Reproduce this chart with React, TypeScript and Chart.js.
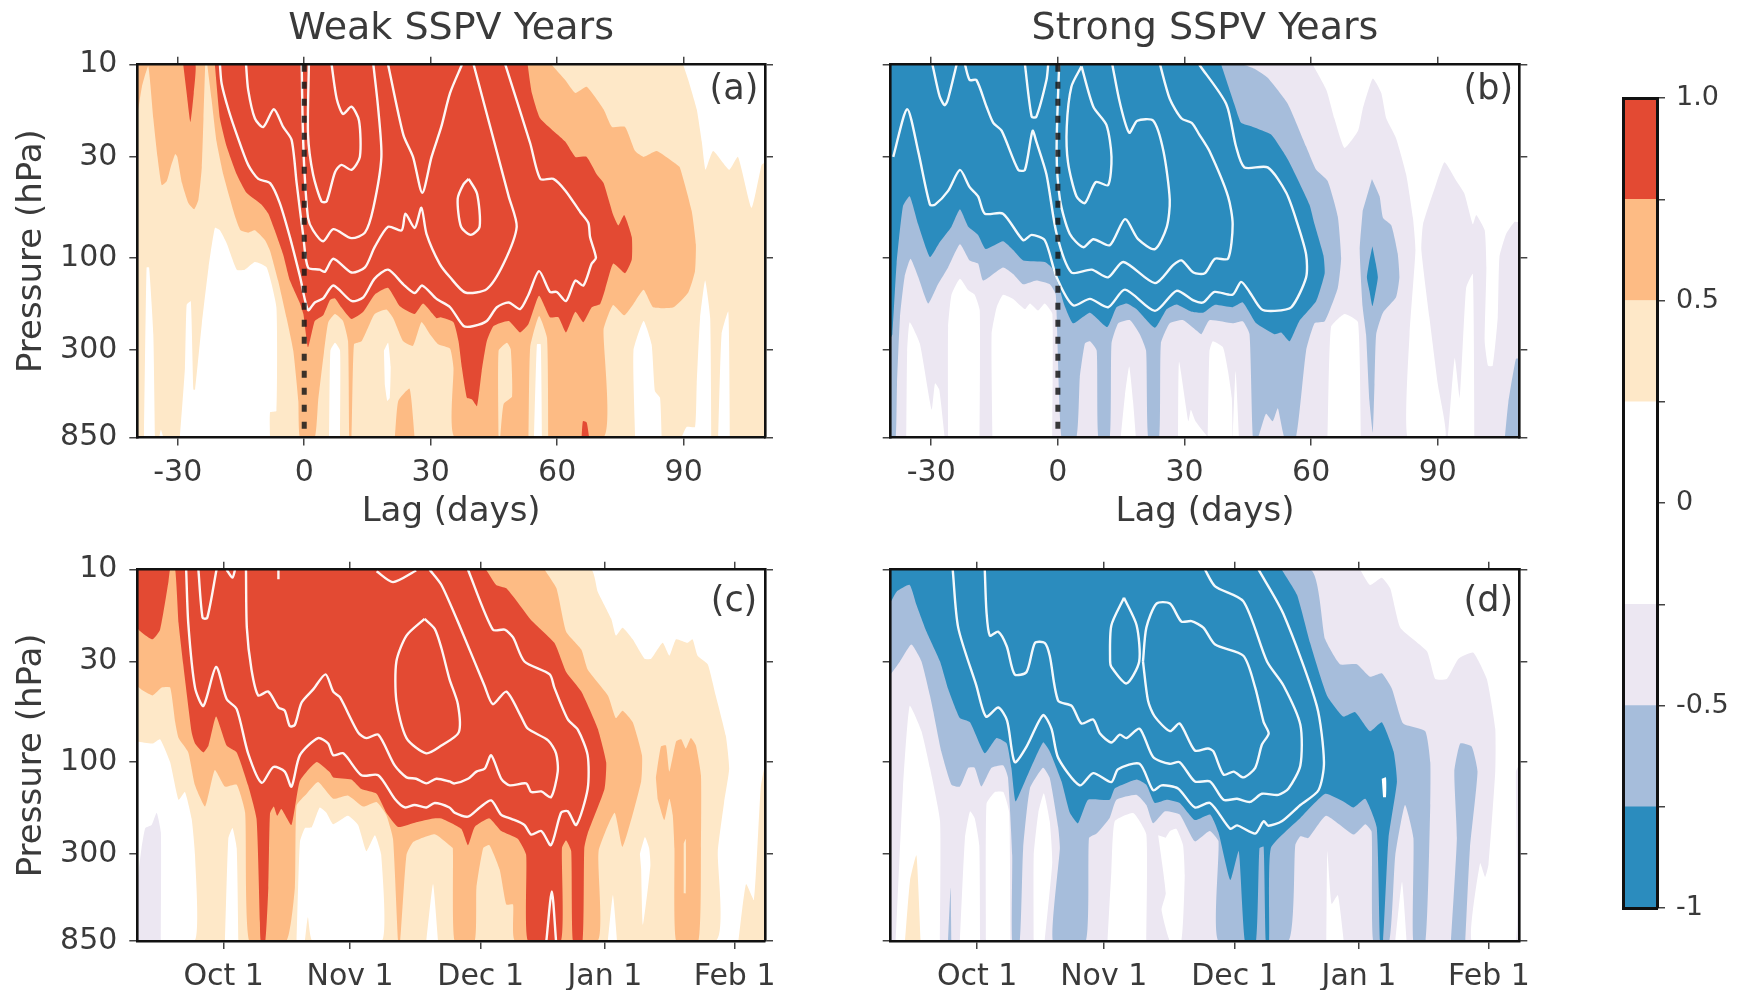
import React, { useEffect, useRef } from "react";
import { Chart, registerables } from "chart.js";
Chart.register(...registerables);

type P = number[][];
const RED = "#e34a33", ORANGE = "#fdbb84", LIGHT = "#fee8c8", WHITE = "#ffffff", LAV = "#ece7f2", LBLUE = "#a6bddb", BLUE = "#2b8cbe";

const lagTicks = [-30, 0, 30, 60, 90];
const lagLabels = ["-30", "0", "30", "60", "90"];
const dateTicks = [0, 30, 61, 90.5, 121.3];
const dateLabels = ["Oct 1", "Nov 1", "Dec 1", "Jan 1", "Feb 1"];
const pressureTicks = [10, 30, 100, 300, 850];
const levels = [-1, -0.75, -0.5, -0.25, 0, 0.25, 0.5, 0.75, 1];
const bandColors = [BLUE, LBLUE, LAV, WHITE, WHITE, LIGHT, ORANGE, RED];
const zeroLine: P = [[0, 10], [0, 850]];

// ---------- panel (a): lag (days), pressure (hPa)
const aBase: P = [[-39.6, 10], [109.3, 10], [109.3, 850], [-39.6, 850]];
const aOrange1: P = [[-39.6, 10], [-39.6, 18], [-38.5, 13], [-37, 10.2], [-35.8, 19], [-34.8, 30], [-33.8, 42], [-32.6, 40], [-31.7, 34], [-30.6, 29], [-30.1, 30], [-29, 41], [-27.5, 52], [-26.1, 56], [-25.1, 50], [-24.3, 34], [-23.9, 19], [-23.5, 10]];
const aRedWedge: P = [[-28.7, 10], [-25.8, 10], [-26.2, 14], [-27, 19.8], [-27.9, 14]];
const aOrange2: P = [[-23, 10], [-22, 15], [-20.8, 25], [-19.2, 37], [-16.4, 61], [-15.1, 72], [-13.3, 74], [-11.7, 72], [-9.3, 81], [-8.1, 92], [-6.2, 131], [-4.2, 204], [-2.6, 302], [-1.4, 550], [-1, 850], [2.5, 850], [3.3, 550], [4.7, 305], [5.7, 215], [7.3, 195], [9.2, 212], [10.4, 270], [10.7, 850], [11.2, 850], [11.8, 280], [13.6, 270], [15.2, 228], [16.7, 195], [19.5, 185], [21.1, 205], [23.5, 270], [25.8, 285], [27.8, 215], [29.8, 248], [31.8, 280], [34.6, 295], [35.4, 370], [35.8, 850], [71, 850], [71, 235], [72.2, 195], [73.3, 175], [75.9, 198], [78.1, 173], [80.5, 146], [82.8, 180], [87.6, 180], [91.1, 151], [92.7, 117], [92.9, 85], [91.9, 57], [89.1, 34], [87.6, 32], [83.6, 28], [80.5, 30], [78.5, 28], [76.1, 21], [73, 21], [71, 17], [67, 13], [64.3, 14], [61.9, 12], [58.7, 10]];
const aOrange3: P = [[21.5, 850], [22.3, 550], [25, 475], [26.2, 850]];
const aLightIsle1: P = [[46.1, 850], [46.1, 302], [48.1, 275], [49, 298], [49.3, 522], [47.3, 570], [46.5, 850]];
const aLightIsle2: P = [[53.2, 850], [53.6, 290], [55.7, 200], [57.6, 260], [57.9, 850]];
const aWhiteIsle: P = [[54.5, 850], [55.2, 280], [56.1, 280], [56.4, 850]];
const aWhite1: P = [[-38, 850], [-37.4, 112], [-36.8, 112], [-35.8, 248], [-35.4, 850]];
const aWhite2: P = [[-34.4, 850], [-34, 775], [-33.4, 850]];
const aWhite3: P = [[-29.5, 850], [-28.3, 370], [-27.9, 175], [-26.9, 168], [-26.3, 480], [-25.9, 480], [-24.3, 220], [-22.7, 112], [-21.2, 70], [-20, 72], [-18.4, 84], [-16, 115], [-14.1, 115], [-11.7, 105], [-8.9, 112], [-6.6, 180], [-6.6, 620], [-8.1, 630], [-8.1, 850]];
const aWhite4: P = [[5.9, 850], [6.2, 302], [7.3, 275], [8.5, 302], [8.5, 850]];
const aWhite5: P = [[18.9, 302], [19.9, 275], [20.5, 365], [20.3, 530], [19.7, 550], [19.1, 450]];
const aWhite6: P = [[78.5, 850], [78.1, 302], [80.5, 212], [82.4, 280], [83.2, 490], [84.4, 530], [84.8, 850]];
const aWhite7: P = [[89.5, 850], [90.7, 750], [92.7, 750], [93.1, 450], [93.9, 205], [95.1, 131], [96.3, 205], [96.6, 850]];
const aWhite8: P = [[98.2, 850], [99, 248], [100.6, 190], [101, 850]];
const aWhiteTop: P = [[89.9, 10], [91.1, 12], [93.1, 17], [94.3, 25], [95.2, 35], [97, 28], [100.8, 35], [102.9, 30], [106.1, 55], [108.5, 33], [109.3, 32], [109.3, 10]];
const aRed: P = [[-21.2, 10], [-20, 19], [-18.4, 26.5], [-16, 37], [-13.7, 46], [-10.1, 53], [-8.5, 59], [-7, 72], [-5, 96], [-3.4, 131], [-1, 172], [-0.2, 195], [0.9, 290], [2.5, 212], [4.5, 198], [6.1, 165], [7.3, 162], [8.8, 180], [11.2, 207], [14, 190], [16.7, 155], [19.9, 143], [22.7, 178], [26.2, 195], [28.2, 172], [31.4, 205], [32.3, 203], [35.4, 215], [36.6, 270], [37.4, 370], [38.6, 530], [39.8, 540], [41, 585], [42.1, 385], [43.3, 270], [44.9, 225], [48.5, 212], [51.2, 243], [53.2, 220], [55.7, 157], [58.3, 203], [60.3, 203], [62.1, 243], [64.3, 190], [66.2, 215], [68.2, 180], [70.2, 173], [71.4, 145], [73.3, 107], [76.1, 120], [77.7, 102], [77.7, 78], [75.9, 60], [74.5, 68], [73.3, 60], [71, 41], [69.4, 37], [67, 30], [64.3, 30], [61.9, 25], [56, 19], [54, 14], [53, 10]];
const aRedSmall: P = [[65.8, 850], [66.1, 700], [67, 710], [67.6, 850]];
const aLine1: P = [[-20, 10], [-19.6, 12.5], [-18, 17], [-16, 23], [-13.3, 33], [-10.9, 39], [-8.1, 41], [-5.8, 52], [-3.4, 78], [-1, 125], [0.9, 186], [2.5, 170], [4.5, 162], [6.9, 139], [11.2, 167], [14, 160], [16.7, 128], [19.9, 115], [23.5, 137], [26.2, 152], [28, 139], [31.4, 163], [34.6, 180], [37.8, 225], [40.2, 225], [43.3, 212], [45.7, 180], [48.5, 170], [51.2, 184], [53.2, 155], [55.7, 117], [58.3, 150], [59.9, 150], [62.1, 167], [64.3, 131], [66.2, 139], [68.2, 107], [69.2, 100], [67.8, 78], [67.4, 66], [65.5, 58], [62, 45], [59.1, 39], [56, 39], [53.6, 25.5], [47.7, 10]];
const aLine2: P = [[-13.8, 10], [-13.3, 13.5], [-11.7, 19], [-9.7, 21], [-7.2, 17], [-5, 21], [-3, 24.5], [-1.8, 41], [-0.2, 78], [0.9, 112], [3.7, 115], [4.9, 118], [6.9, 101], [11.2, 119], [14.4, 112], [16.7, 88], [19.9, 69], [23.1, 72], [24, 59], [26.2, 70], [27.8, 55], [29, 75], [32.1, 107], [34.6, 126], [38.2, 151], [43.3, 145], [47.3, 107], [50.4, 69], [48.5, 48], [40.2, 10]];
const aLine3: P = [[19.9, 10], [23.5, 23], [25.8, 30], [28, 46], [30.2, 30], [32.5, 21], [34.6, 14], [37.4, 10]];
const aLine4: P = [[-0.6, 10], [-0.4, 19], [0, 34], [0.9, 62], [2.1, 72], [4.5, 82], [6.9, 71], [11.2, 79], [14.4, 74], [16.4, 55], [18.3, 30], [17.5, 16.5], [16.4, 10]];
const aLine5: P = [[1.1, 10], [0.9, 23], [2.1, 37], [4.1, 51], [5.3, 51], [7.3, 36], [8.8, 33], [11.2, 35], [13.2, 30], [13, 19.5], [11.2, 16.5], [9.2, 18], [7.7, 15], [6.5, 10]];
const aLine6: P = [[39, 39], [41, 46.5], [41.6, 69], [39.5, 76], [37.2, 69], [36.4, 49.5], [37.8, 41.5], [39, 39]];

// ---------- panel (b)
const bBase: P = [[-39.6, 10], [109.3, 10], [109.3, 850], [-39.6, 850]];
const bWhite1: P = [[-35.9, 850], [-35.7, 305], [-35.1, 215], [-32.7, 277], [-29.9, 610], [-29.1, 445], [-28.1, 480], [-26.8, 850]];
const bWhite2: P = [[-26, 850], [-26, 228], [-25.2, 155], [-23.2, 128], [-21.2, 147], [-19.7, 155], [-18.5, 187], [-18.5, 850]];
const bWhite3: P = [[-15.5, 850], [-15.7, 248], [-14.5, 180], [-13, 155], [-10.6, 163], [-7.8, 184], [-6.6, 172], [-4.7, 187], [-3.1, 172], [-1.3, 195], [-1.3, 850]];
const bWhite4: P = [[14.9, 850], [15.9, 510], [16.9, 365], [17.8, 550], [18.5, 850]];
const bWhite5: P = [[28.5, 850], [28.7, 345], [30.9, 700], [31.5, 610], [32.6, 700], [35.6, 850]];
const bWhite6: P = [[35.5, 850], [35.9, 305], [36.7, 270], [39.1, 290], [40.3, 385], [41.2, 530], [41.4, 850]];
const bWhite7: P = [[41.4, 850], [42.1, 385], [42.9, 850]];
const bWhite8: P = [[63.9, 850], [64.7, 228], [67.9, 195], [71.1, 215], [71.8, 850]];
const bWhite9: P = [[60.4, 10], [63.6, 13.5], [65.5, 19], [67.9, 27], [71.1, 22], [72.2, 17], [74.6, 11.8], [76.6, 14], [77.8, 19], [80.1, 24], [82.5, 37], [84.1, 62], [84.7, 91], [83.3, 248], [82.9, 850], [91.8, 850], [90, 450], [88, 203], [86.1, 91], [86.5, 67], [89.6, 41.5], [91.6, 32], [94.4, 40], [96.3, 46.5], [98.3, 67], [99.1, 60], [101.1, 72], [101.5, 112], [101.1, 270], [101.9, 362], [103, 362], [104.2, 203], [104.6, 99], [106.2, 75], [108.2, 65], [109.3, 65], [109.3, 10]];
const bWhite10: P = [[92.4, 850], [94, 330], [95.2, 530], [96.7, 143], [98.3, 121], [98.7, 850]];
const bLBlue: P = [[-39.6, 850], [-38.4, 850], [-38.1, 450], [-37.4, 203], [-36.3, 125], [-34.9, 101], [-33.1, 125], [-30.7, 172], [-28.4, 137], [-26, 112], [-23.2, 85], [-20.9, 103], [-18.9, 107], [-17.7, 131], [-13, 112], [-10.6, 121], [-8.2, 137], [-5.1, 131], [-1.9, 137], [-0.5, 155], [0.9, 850], [4.4, 850], [5.2, 415], [6.4, 277], [7.6, 270], [9.2, 302], [9.6, 850], [12.3, 850], [12.7, 277], [14.3, 218], [17.1, 210], [19.4, 248], [20.9, 302], [21.4, 850], [24, 850], [24.4, 277], [26.5, 218], [29.7, 210], [32.9, 238], [34, 248], [35.9, 210], [41.4, 218], [43.8, 213], [45.4, 248], [46.2, 850], [47.4, 850], [49.3, 640], [50.9, 700], [52.1, 600], [53.7, 850], [56.4, 850], [58.8, 302], [60.8, 218], [63.2, 213], [66.3, 143], [67.1, 100], [66.3, 61], [63.9, 40], [61.2, 35], [58.8, 26.5], [54.5, 16], [49.7, 11.7], [46.6, 10.5], [43.8, 10], [-39.6, 10]];
const bBlob: P = [[74.4, 39], [76.2, 48], [77, 62], [79, 68], [80.5, 95], [80.9, 126], [80.1, 160], [77, 192], [75.4, 248], [75, 450], [74.6, 800], [73.8, 550], [73, 248], [72.2, 180], [71.5, 91], [72.2, 57]];
const bCorner: P = [[105.9, 850], [106.7, 560], [108.5, 333], [109.3, 333], [109.3, 850]];
const bBlue: P = [[-39.6, 10], [-39.6, 258], [-39.2, 248], [-38.2, 107], [-36.7, 54], [-35.1, 48], [-33.1, 67], [-30.3, 99], [-28, 83], [-25.2, 69], [-23.2, 56], [-21.2, 69], [-18.9, 76], [-17.1, 90], [-13, 82], [-10.6, 91], [-8.2, 103], [-3.1, 105], [-1.5, 112], [0.1, 137], [1.4, 172], [3.6, 218], [7.6, 192], [11.7, 228], [13.9, 180], [16.3, 172], [18.6, 184], [23, 230], [25.8, 184], [28.1, 174], [31.7, 190], [34.4, 192], [37.1, 175], [41.4, 180], [43.8, 170], [47, 218], [51.3, 248], [52.9, 243], [54.9, 270], [57.2, 212], [61.2, 167], [63.2, 120], [62.9, 97], [60.8, 67], [59.6, 53], [54.5, 31], [50.5, 23], [46.2, 21], [43.4, 20], [41.8, 16], [38.7, 10]];
const bBlueBlob: P = [[74.5, 87], [75.3, 107], [75.8, 126], [75, 160], [74.5, 178], [73.8, 148], [73.2, 126], [73.8, 103]];
const bLine1: P = [[-39, 30], [-35.7, 17], [-33.1, 28], [-30.3, 53], [-29.1, 53], [-26, 45], [-23.2, 35], [-20.9, 43], [-18.9, 48], [-17.3, 59], [-13, 59], [-8.2, 81], [-6.2, 76], [-3.1, 81], [-0.3, 126], [3.6, 176], [7.6, 163], [11.9, 180], [15.9, 146], [23, 188], [28.1, 148], [32.1, 166], [34.4, 170], [37.1, 150], [41.4, 155], [43.4, 133], [45.4, 150], [48.2, 184], [51.3, 188], [55.3, 180], [58.8, 126], [58.8, 96], [56.8, 67], [54.1, 46], [49.7, 34], [44.2, 34], [42.2, 26.5], [39.9, 16], [33.5, 10]];
const bLine2: P = [[-22, 10], [-20.9, 12], [-19.3, 12], [-16.9, 16.5], [-15.3, 20], [-13.3, 22], [-9.4, 35], [-7.8, 35], [-6, 22], [-5.1, 25], [-2.7, 37], [-0.3, 75], [3.2, 119], [8, 115], [11.9, 126], [15.5, 105], [23, 135], [27.3, 109], [29.3, 103], [32.1, 119], [34.8, 120], [37.2, 101], [40.3, 101], [41.4, 67], [40.3, 48], [35.9, 28], [33.5, 23], [31.7, 20], [29.3, 19], [26.5, 15], [24.2, 10]];
const bLine3: P = [[12.9, 10], [14.7, 15.8], [16.9, 22.5], [18.8, 19.5], [22.6, 19.5], [25, 28], [26.5, 50], [25.8, 69], [23, 90], [19, 80], [15.9, 63], [12.3, 86], [8.4, 80], [6, 88], [2.8, 75], [0.5, 50], [-0.3, 28], [0.3, 10]];
const bLine4: P = [[5.6, 10.2], [8.4, 16.5], [11.5, 20.5], [12.7, 30], [11.9, 42], [9, 40.5], [6.4, 52], [4.4, 48], [2.4, 32], [2.1, 21], [3.2, 13], [5.6, 10.2]];
const bLine5: P = [[-29.7, 10], [-28, 14.6], [-26.8, 16.2], [-26, 15], [-24, 10]];
const bLine6: P = [[-7.8, 10], [-6.2, 18.6], [-5.1, 18.6], [-2.7, 12], [-2.3, 10]];

// ---------- panel (c): days from Oct 1, pressure (hPa)
const cLight: P = [[-20.5, 10], [87.2, 10], [88.8, 13], [92, 18], [93.1, 22], [94.7, 20], [97.1, 23], [99.9, 29], [101.5, 29], [104.2, 24], [105.8, 28], [107.4, 23], [110.1, 24], [111.3, 23], [112.5, 28], [114.9, 31], [116.8, 45], [119.2, 73], [120, 108], [118.8, 161], [117.3, 290], [116.6, 850], [-20.5, 850]];
const cCorner: P = [[122.2, 850], [124, 430], [125.9, 520], [127.5, 135], [128.7, 100], [128.7, 850]];
const cWhite1: P = [[-20.5, 78], [-16.9, 80], [-15.1, 76], [-12.7, 100], [-10.7, 157], [-9.2, 143], [-7.6, 197], [-6.8, 303], [-6.8, 850], [-20.5, 850]];
const cLav: P = [[-20.5, 850], [-20.5, 430], [-19.5, 280], [-18.6, 220], [-17.1, 212], [-15.9, 183], [-14.9, 232], [-14.9, 850]];
const cWhite2: P = [[0.3, 850], [1.1, 250], [2.1, 220], [3.1, 280], [3.5, 850]];
const cWhite3: P = [[17.3, 850], [18.1, 260], [19.3, 220], [20.9, 218], [22.8, 172], [24.4, 183], [26, 210], [29.5, 190], [31.9, 212], [33.9, 290], [35.9, 240], [37.4, 303], [37.6, 850], [21.1, 850], [20, 640], [19.3, 850]];
const cWhite4: P = [[48.1, 850], [49.7, 430], [50.9, 850]];
const cWhite5: P = [[91.2, 850], [92.4, 490], [93.4, 850]];
const cWhite6: P = [[98.8, 300], [100, 245], [101, 280], [101.3, 345], [99.5, 700], [99.1, 360]];
const cOrange: P = [[-20.5, 10], [-20.5, 40], [-16.9, 45], [-14.7, 41], [-12.7, 41], [-11.5, 62], [-10.7, 75], [-8.4, 89], [-6.8, 132], [-4.4, 170], [-2.1, 110], [0.3, 134], [3.1, 131], [5.1, 183], [6.1, 850], [14.9, 850], [16.9, 450], [17.3, 168], [19.7, 146], [22.4, 127], [26, 155], [29.5, 149], [33.1, 170], [36.3, 161], [38.6, 188], [40.2, 250], [41.4, 850], [41.9, 850], [43.4, 303], [45, 260], [50.1, 237], [53.6, 270], [54.4, 280], [54.8, 850], [59.6, 850], [60, 450], [61.6, 280], [63.1, 270], [65.5, 360], [67.1, 550], [68.7, 550], [69.2, 850], [88.8, 850], [89, 290], [92.8, 183], [94.7, 275], [99.1, 126], [99.3, 92], [97.1, 62], [94.7, 54], [93.1, 59], [91.2, 45], [86.4, 33], [84.9, 26], [81.3, 21], [79, 12.5], [76.2, 10]];
const cOrangeIsle: P = [[102.6, 121], [103.8, 83], [105, 82], [105.8, 112], [107.4, 78], [108.6, 76], [109.7, 85], [110.9, 75], [112.1, 82], [113.3, 117], [113.3, 280], [112.7, 850], [107.4, 850], [107, 280], [106.6, 188], [105.8, 155], [104.6, 200], [103, 155]];
const cLightSlit: P = [[109.2, 265], [109.7, 250], [109.7, 480], [109.2, 480]];
const cRed: P = [[-20.5, 10], [-20.5, 20], [-16.9, 23], [-15.1, 20.5], [-13.1, 11.5], [-12.7, 10], [-11.5, 10], [-10.7, 19], [-9.6, 31], [-7.6, 70], [-6.8, 80], [-4.8, 89], [-3.6, 82], [-1.8, 58], [0.7, 82], [3.1, 89], [5.8, 132], [7.8, 197], [8.6, 680], [8.8, 850], [9.9, 850], [10.6, 450], [11, 185], [11.9, 170], [12.7, 190], [13.7, 175], [16.1, 212], [18.1, 125], [22, 100], [25.2, 113], [26, 120], [30.3, 123], [32.7, 138], [36.3, 146], [38.6, 183], [41.4, 217], [45.7, 205], [49.7, 196], [51.7, 196], [56.4, 222], [58, 270], [59.6, 217], [63.1, 196], [65.9, 228], [69.8, 250], [71.8, 303], [72.2, 850], [80.1, 850], [80.3, 280], [81.3, 255], [82.5, 290], [82.9, 850], [85.2, 850], [85.6, 280], [86.4, 235], [90.4, 138], [90.8, 100], [88.8, 67], [84.9, 43], [81.3, 34], [78.5, 24], [73, 18.3], [70.2, 15.2], [67.1, 12.5], [64.7, 12], [62.3, 10]];
const cLine1: P = [[-8.9, 10], [-8.4, 19], [-6.8, 41], [-4.8, 51], [-1.8, 32], [0.7, 47], [3.1, 53], [5.8, 90], [9, 128], [11.8, 106], [14.5, 112], [16.1, 134], [18.1, 92], [22.4, 75], [24.8, 80], [26, 92], [28.4, 90], [32.7, 117], [36.7, 117], [40.6, 155], [43, 172], [45.3, 167], [48.1, 172], [50.1, 163], [53.6, 172], [54.8, 183], [58, 192], [60.8, 172], [63.5, 158], [65.9, 188], [68.3, 197], [71.4, 212], [73, 238], [75.4, 228], [77.7, 270], [80.1, 183], [81.7, 180], [83.7, 212], [86.4, 138], [86.4, 92], [84.1, 68], [81.7, 60], [78.5, 41], [77.4, 35], [71.4, 30], [68.7, 22.5], [66.7, 20.5], [63.9, 20.5], [58, 10]];
const cLine2: P = [[5.3, 10], [5.5, 20], [6.6, 33], [8.2, 45], [10.6, 43], [13, 52], [14.5, 54], [15.7, 65], [16.9, 64], [18.5, 49], [21.2, 42], [24.2, 35], [26, 43], [27.6, 46], [31.9, 70], [33.9, 75], [36.7, 72], [40.6, 104], [43.4, 120], [45.7, 122], [48.1, 129], [50.5, 122], [53.6, 126], [54.8, 129], [58, 122], [60, 112], [62, 108], [63.5, 92], [65.9, 122], [67.9, 132], [71.8, 129], [73, 143], [75.4, 142], [77.7, 152], [79.3, 112], [78.9, 90], [77, 77], [72.2, 67], [70.6, 58], [67.1, 43], [63.9, 50], [61.9, 40], [56.4, 20.5], [51.7, 12], [48.9, 10]];
const cLine3: P = [[47.7, 18], [50.1, 20.3], [51.7, 25.6], [53.6, 37], [55.6, 50], [55.8, 70], [51.7, 82], [48.1, 90], [43.4, 75], [41, 48], [41, 30], [43.4, 22], [47.7, 18]];
const cLine4: P = [[-6, 10], [-5, 17.8], [-3.9, 17.8], [-1.7, 10]];
const cLine5: P = [[0.7, 10], [2.1, 11], [2.7, 10]];
const cLine6: P = [[13, 10], [13, 11.2]];
const cLine7: P = [[36.3, 10.2], [40.2, 11.6], [45.7, 10.1]];
const cLine8: P = [[76.6, 850], [77.9, 470], [78.9, 850]];

// ---------- panel (d)
const dBase: P = [[-20.5, 10], [128.7, 10], [128.7, 850], [-20.5, 850]];
const dWhite1: P = [[-19.3, 850], [-17.6, 137], [-16, 51], [-13.2, 69], [-11.2, 107], [-8.8, 203], [-8.8, 850]];
const dPale: P = [[-17.1, 850], [-15.9, 410], [-14.4, 305], [-13.4, 850]];
const dThin: P = [[-6.9, 850], [-6.3, 450], [-6.1, 850]];
const dWhite2: P = [[-4.1, 850], [-2.9, 248], [-1.7, 180], [-0.6, 195], [0.5, 270], [0.7, 850]];
const dWhite3: P = [[2.1, 850], [2.2, 165], [4.2, 143], [6.2, 143], [7.6, 183], [7.9, 850]];
const dWhite4: P = [[13.4, 850], [13.4, 305], [14.5, 183], [15.8, 145], [17.2, 203], [17.8, 330], [16, 850]];
const dWhite5: P = [[30.9, 850], [31.8, 370], [32.6, 203], [37, 184], [40.1, 238], [40.1, 850]];
const dWhite6: P = [[42.9, 240], [44.7, 480], [43.7, 585], [45.7, 850], [48.4, 850], [49.2, 385], [48.8, 270], [47.2, 222], [45.7, 228], [44.7, 247]];
const dWhite7: P = [[82.8, 850], [83, 290], [84, 545], [85.5, 490], [86.9, 850]];
const dWhite8: P = [[99.1, 850], [100.7, 420], [101.8, 850]];
const dWhiteTop: P = [[90.8, 10], [93.1, 12], [95.9, 11], [97.9, 12.5], [100.3, 20], [106.6, 26.5], [108.6, 37], [111.3, 37], [114.1, 29], [117.6, 27], [120.8, 37], [122.8, 67], [122.8, 112], [121.2, 340], [120.4, 395], [119.2, 335], [117.2, 850], [127.7, 850], [127.7, 112], [128.7, 100], [128.7, 10]];
const dLBlue: P = [[-20.5, 35], [-18.3, 30], [-15.6, 24.5], [-13.2, 30], [-11.2, 45], [-10.4, 54.5], [-8.5, 88], [-6.1, 131], [-4.1, 134], [-2.1, 107], [-0.6, 107], [1, 134], [3.4, 107], [6.2, 104], [7.3, 120], [8.3, 305], [8.3, 850], [10.1, 850], [10.9, 280], [12.5, 137], [15.6, 107], [17.2, 121], [19.2, 218], [19.6, 280], [18, 850], [25.8, 850], [26.5, 248], [28.3, 235], [31.4, 195], [33, 157], [37.8, 148], [40.1, 167], [41.7, 208], [44.5, 180], [48, 187], [51.6, 258], [55.1, 228], [57.2, 258], [57.2, 850], [73.8, 850], [75.4, 270], [76.6, 243], [78.5, 248], [82.7, 190], [89.2, 238], [92, 210], [93.5, 230], [93.9, 850], [97.7, 850], [99.1, 305], [101.4, 167], [103.4, 248], [103.4, 850], [106.3, 850], [107.4, 167], [107.4, 100], [106.2, 69], [101, 63], [98.3, 41.5], [95.9, 34.5], [93.1, 36], [90, 31], [86, 31], [82.5, 23], [78.9, 10], [-20.5, 10]];
const dStrip: P = [[112.3, 850], [113.7, 248], [113.1, 112], [114.5, 80], [117.2, 83], [118.6, 112], [116.8, 280], [115.7, 850]];
const dBlue: P = [[-20.5, 10], [-20.5, 14.6], [-19.1, 13], [-16, 12], [-14.4, 15.2], [-12, 21], [-8.8, 30], [-6.9, 41.5], [-4.1, 59], [-1.7, 62], [1.8, 90], [4.6, 75], [7, 80], [8.1, 107], [9.1, 160], [11.3, 126], [15.6, 79], [17.2, 88], [20, 126], [22, 184], [23.9, 208], [26.3, 157], [31.4, 157], [32.6, 137], [37.8, 123], [40.1, 131], [42.1, 163], [44.9, 157], [48, 163], [51.6, 200], [55.2, 187], [57.2, 232], [60, 410], [62, 290], [63.5, 850], [66.1, 850], [66.9, 280], [67.9, 275], [68.4, 850], [69.2, 850], [69.6, 280], [76.6, 195], [82.5, 146], [86.8, 160], [89.2, 172], [92, 155], [94.7, 218], [95.5, 850], [96.2, 850], [97.5, 248], [99.5, 126], [98.7, 88], [95.9, 62], [93.1, 69], [89.6, 55], [86.8, 58], [82.9, 45], [78.9, 24], [75.8, 13.5], [72.2, 10]];
const dSpeck: P = [[95.9, 122], [96.9, 120], [96.9, 152], [96.2, 152]];
const dLine1: P = [[-5.8, 10], [-4.5, 20], [-0.2, 40], [2.1, 58], [5, 52], [7.1, 61], [8.9, 100], [11.7, 83], [15.6, 57], [17.6, 67], [19.2, 95], [24.3, 132], [27.5, 114], [31.8, 127], [33.4, 109], [38.5, 102], [41.7, 140], [43.7, 132], [47.6, 137], [51.6, 172], [55.2, 163], [60, 222], [61.6, 213], [65.9, 235], [67.9, 203], [69, 214], [72.2, 203], [76.6, 167], [80.9, 140], [82.2, 100], [80.5, 51], [72.6, 17], [66.7, 10]];
const dLine2: P = [[1.8, 10], [2.2, 16.5], [3, 22], [5, 21], [7, 25], [8.9, 35], [11.7, 34], [13.7, 24], [16, 24], [17.2, 28], [19.2, 48], [22.4, 51], [24.7, 63], [27.5, 60], [29.1, 71], [31.8, 79], [33.8, 72], [35.4, 75], [38.5, 67], [41.7, 94], [45.6, 102], [48, 100], [51.6, 126], [55.2, 126], [58.4, 157], [61.6, 155], [64.7, 161], [67.5, 146], [71.4, 148], [73.8, 137], [76.6, 104], [76.6, 64], [72.6, 40], [68.7, 30], [63.1, 14.6], [56.4, 12.2], [54, 10]];
const dLine3: P = [[39.3, 30], [40.5, 48], [42.1, 58], [45.7, 69], [48, 63], [51.6, 87], [54.7, 85], [56, 88], [58.4, 116], [60.8, 112], [63.1, 120], [65.9, 107], [67.5, 81], [69.1, 71], [67.9, 62], [65.9, 41], [63.1, 28], [56.4, 24.5], [53.6, 20], [50.8, 18.5], [48.4, 18.6], [45.7, 15], [42.5, 15], [40.1, 20], [39.3, 30]];
const dLine4: P = [[34.8, 14], [37.8, 19.5], [38.4, 30], [35.4, 39], [31.8, 32], [31.5, 29.5], [31.8, 19.5], [34.8, 14]];

type Layer = [P, string];
const layersA: Layer[] = [[aBase, LIGHT], [aWhite1, WHITE], [aWhite2, WHITE], [aWhite3, WHITE], [aWhite4, WHITE], [aWhite5, WHITE], [aWhite6, WHITE], [aWhite7, WHITE], [aWhite8, WHITE], [aWhiteTop, WHITE], [aOrange1, ORANGE], [aOrange2, ORANGE], [aOrange3, ORANGE], [aLightIsle1, LIGHT], [aLightIsle2, LIGHT], [aWhiteIsle, WHITE], [aRed, RED], [aRedWedge, RED], [aRedSmall, RED]];
const linesA: P[] = [aLine1, aLine2, aLine3, aLine4, aLine5, aLine6];
const layersB: Layer[] = [[bBase, LAV], [bWhite1, WHITE], [bWhite2, WHITE], [bWhite3, WHITE], [bWhite4, WHITE], [bWhite5, WHITE], [bWhite6, WHITE], [bWhite7, WHITE], [bWhite8, WHITE], [bWhite9, WHITE], [bWhite10, WHITE], [bLBlue, LBLUE], [bBlob, LBLUE], [bCorner, LBLUE], [bBlue, BLUE], [bBlueBlob, BLUE]];
const linesB: P[] = [bLine1, bLine2, bLine3, bLine4, bLine5, bLine6];
const layersC: Layer[] = [[cLight, LIGHT], [cCorner, LIGHT], [cWhite1, WHITE], [cLav, LAV], [cWhite2, WHITE], [cWhite3, WHITE], [cWhite4, WHITE], [cWhite5, WHITE], [cWhite6, WHITE], [cOrange, ORANGE], [cOrangeIsle, ORANGE], [cLightSlit, LIGHT], [cRed, RED]];
const linesC: P[] = [cLine1, cLine2, cLine3, cLine4, cLine5, cLine6, cLine7, cLine8];
const layersD: Layer[] = [[dBase, LAV], [dWhite1, WHITE], [dPale, LIGHT], [dThin, LBLUE], [dWhite2, WHITE], [dWhite3, WHITE], [dWhite4, WHITE], [dWhite5, WHITE], [dWhite6, WHITE], [dWhite7, WHITE], [dWhite8, WHITE], [dWhiteTop, WHITE], [dLBlue, LBLUE], [dStrip, LBLUE], [dBlue, BLUE], [dSpeck, WHITE]];
const linesD: P[] = [dLine1, dLine2, dLine3, dLine4];

const FONT = "'DejaVu Sans'";
const TEXT = "#3a3a3a";
const FRAME = "#111111";

const setTicks = (vals: number[]) => (s: any) => { s.ticks = vals.map((value) => ({ value })); };

function panelConfig(o: any) {
  const toXY = (p: P) => p.map(([x, y]) => ({ x, y }));
  const ds: any[] = [];
  o.layers.forEach(([poly, color]: Layer) => ds.push({ data: toXY(poly), showLine: true, fill: "shape", backgroundColor: color, borderWidth: 0, pointRadius: 0, tension: 0.15 }));
  o.lines.forEach((l: P) => ds.push({ data: toXY(l), showLine: true, fill: false, borderColor: "rgba(255,255,255,0.95)", borderWidth: 2.4, pointRadius: 0, tension: 0.25 }));
  if (o.zero) ds.push({ data: toXY(zeroLine), showLine: true, fill: false, borderColor: "rgba(25,25,25,0.85)", borderWidth: 5, borderDash: [7, 10], pointRadius: 0 });
  ds.forEach((d, i) => { d.order = ds.length - i; });
  const border = { color: FRAME, width: 2.6, z: 5 };
  const grid = { drawOnChartArea: false, drawTicks: true, tickLength: 8, tickColor: "#444", lineWidth: 1.5 };
  const tickFont = { family: FONT, size: 30 };
  return {
    type: "scatter",
    data: { datasets: ds },
    plugins: [{
      id: "panelLetter",
      afterDraw(c: any) {
        const g = c.ctx;
        g.save();
        g.font = `35px ${FONT}`;
        g.fillStyle = TEXT;
        g.textAlign = "center";
        g.textBaseline = "middle";
        g.fillText(o.letter, c.chartArea.right - 31, c.chartArea.top + 25 + o.letterDy);
        g.restore();
      },
    }],
    options: {
      animation: false,
      responsive: false,
      events: [],
      layout: { padding: { left: o.padL, right: o.padR, top: o.padT, bottom: 0 } },
      plugins: {
        legend: { display: false },
        tooltip: { enabled: false },
        title: o.title
          ? { display: true, fullSize: false, text: o.title, color: TEXT, font: { family: FONT, size: 38, weight: "normal", lineHeight: 1.2 }, padding: { top: 6.4, bottom: 12.7 } }
          : { display: false },
      },
      scales: {
        x: {
          type: "linear", position: "bottom", min: o.xMin, max: o.xMax,
          afterBuildTicks: setTicks(o.xTicks), afterFit: (s: any) => { s.height = o.xH; },
          border, grid,
          title: o.xTitle ? { display: true, text: o.xTitle, color: TEXT, font: { family: FONT, size: 34, lineHeight: 1.2 }, padding: 0 } : { display: false },
          ticks: { color: TEXT, font: tickFont, padding: 10, maxRotation: 0, autoSkip: false, callback: (v: number) => o.xLabels[o.xTicks.indexOf(v)] },
        },
        x2: {
          type: "linear", position: "top", axis: "x", min: o.xMin, max: o.xMax,
          afterBuildTicks: setTicks(o.xTicks), afterFit: (s: any) => { s.height = 0; },
          border, grid, ticks: { display: false },
        },
        y: {
          type: "logarithmic", position: "left", reverse: true, min: 10, max: 850,
          afterBuildTicks: setTicks(pressureTicks), afterFit: (s: any) => { s.width = o.yW; },
          border, grid,
          title: o.yTitle ? { display: true, text: o.yTitle, color: TEXT, font: { family: FONT, size: 34, lineHeight: 1.2 }, padding: 0 } : { display: false },
          ticks: { display: o.yLabels, color: TEXT, font: tickFont, padding: 12, autoSkip: false, callback: (v: number) => String(v) },
        },
        y2: {
          type: "logarithmic", position: "right", axis: "y", reverse: true, min: 10, max: 850,
          afterBuildTicks: setTicks(pressureTicks), afterFit: (s: any) => { s.width = 0; },
          border, grid, ticks: { display: false },
        },
      },
    },
  };
}

const barConfig = () => {
  const border = { color: FRAME, width: 3, z: 5 };
  const noGrid = { display: false };
  const labelFor = (v: number) => (v === 1 ? "1.0" : v === 0.5 ? "0.5" : v === 0 ? "0" : v === -0.5 ? "-0.5" : v === -1 ? "-1" : "");
  return {
    type: "bar",
    data: {
      labels: [""],
      datasets: bandColors.map((c, i) => ({ data: [[levels[i], levels[i + 1]]], backgroundColor: c, borderWidth: 0, barPercentage: 1, categoryPercentage: 1, grouped: false })),
    },
    options: {
      animation: false, responsive: false, events: [],
      layout: { padding: { left: 23, right: 0, top: 18, bottom: 22 } },
      plugins: { legend: { display: false }, tooltip: { enabled: false } },
      scales: {
        x: { type: "category", border, grid: noGrid, ticks: { display: false }, afterFit: (s: any) => { s.height = 0; } },
        xTop: { type: "linear", axis: "x", position: "top", border, grid: noGrid, ticks: { display: false }, afterFit: (s: any) => { s.height = 0; } },
        y: {
          position: "right", min: -1, max: 1,
          afterBuildTicks: setTicks(levels), afterFit: (s: any) => { s.width = 86; s.paddingTop = 0; s.paddingBottom = 0; },
          border, grid: { drawOnChartArea: false, drawTicks: true, tickLength: 8, tickColor: "#444", lineWidth: 1.5 },
          ticks: { color: TEXT, font: { family: FONT, size: 27 }, padding: 11, autoSkip: false, callback: labelFor },
        },
        yLeft: { axis: "y", position: "left", min: -1, max: 1, border, grid: noGrid, ticks: { display: false }, afterFit: (s: any) => { s.width = 0; } },
      },
    },
  };
};

function Panel({ config, left, top, width, height }: any) {
  const ref = useRef<HTMLCanvasElement>(null);
  useEffect(() => {
    const chart = new Chart(ref.current as any, config());
    return () => chart.destroy();
  }, []);
  return <canvas ref={ref} width={width} height={height} style={{ position: "absolute", left, top, width, height, filter: "blur(0.5px)" }} />;
}

const lagAxes = { xMin: -39.6, xMax: 109.3, xTicks: lagTicks, xLabels: lagLabels, xTitle: "Lag (days)", xH: 95.5, padT: 0, letterDy: 0 };
const dateAxes = { xMin: -20.5, xMax: 128.5, xTicks: dateTicks, xLabels: dateLabels, xH: 49, padT: 49.7, letterDy: 7 };
const leftCol = { padL: 11.6, padR: 35, yW: 125.7, yTitle: "Pressure (hPa)", yLabels: true };
const rightCol = { padL: 0, padR: 40.7, yW: 30.7, yLabels: false };

export default function App() {
  useEffect(() => { document.body.style.margin = "0"; document.body.style.background = "#fff"; }, []);
  return (
    <div style={{ position: "absolute", left: 0, top: 0, width: 1743, height: 990, overflow: "hidden", background: "#fff" }}>
      <Panel left={0} top={0} width={800} height={533} config={() => panelConfig({ ...lagAxes, ...leftCol, layers: layersA, lines: linesA, zero: true, letter: "(a)", title: "Weak SSPV Years" })} />
      <Panel left={860} top={0} width={700} height={533} config={() => panelConfig({ ...lagAxes, ...rightCol, layers: layersB, lines: linesB, zero: true, letter: "(b)", title: "Strong SSPV Years" })} />
      <Panel left={0} top={520} width={800} height={470} config={() => panelConfig({ ...dateAxes, ...leftCol, layers: layersC, lines: linesC, zero: false, letter: "(c)" })} />
      <Panel left={860} top={520} width={700} height={470} config={() => panelConfig({ ...dateAxes, ...rightCol, layers: layersD, lines: linesD, zero: false, letter: "(d)" })} />
      <Panel left={1600} top={80} width={143} height={850} config={barConfig} />
    </div>
  );
}
